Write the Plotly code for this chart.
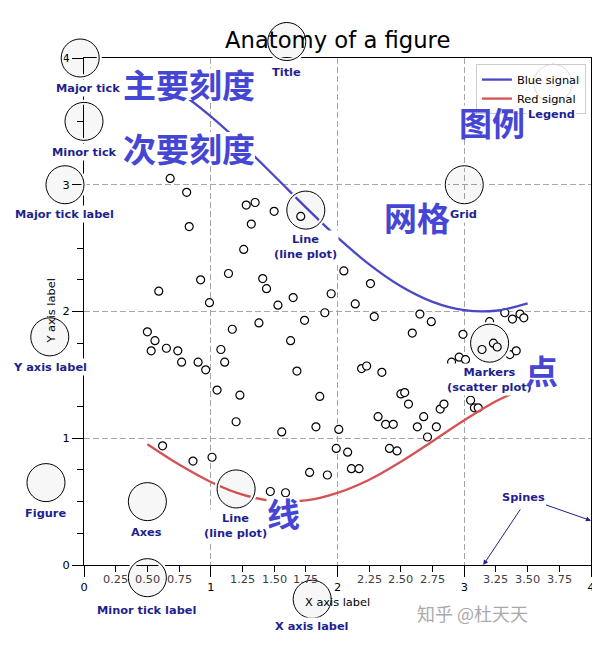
import plotly.graph_objects as go

# ---------------- data ----------------
line_x = [0.5, 0.75, 1.0, 1.25, 1.5, 1.75, 2.0, 2.25, 2.5, 2.75, 3.0, 3.25, 3.5]
blue_y = [3.878, 3.732, 3.540, 3.315, 3.071, 2.822, 2.584, 2.372, 2.199, 2.076, 2.010, 2.006, 2.064]
red_y = [0.952, 0.792, 0.655, 0.555, 0.505, 0.509, 0.569, 0.673, 0.815, 0.977, 1.142, 1.292, 1.407]

scatter_x = [0.68, 0.81, 0.83, 1.28, 1.35, 1.50, 1.71, 1.32, 1.26, 0.92, 1.14, 0.59, 0.99, 1.41, 1.44,
             1.53, 1.65, 1.95, 1.90, 1.74, 1.38, 1.17, 0.50, 2.05, 2.26, 2.14, 2.29, 2.65, 2.74, 2.59,
             2.99, 3.32, 3.38, 3.44, 3.47, 3.20, 0.56, 0.53, 0.65, 0.74, 0.77, 0.90, 0.96, 1.08, 1.11,
             1.63, 1.68, 1.05, 1.23, 1.20, 1.86, 1.83, 1.56, 2.01, 1.99, 0.62, 0.86, 1.01, 1.78, 1.92,
             1.47, 1.59, 2.19, 2.23, 2.35, 2.90, 2.96, 3.01, 3.14, 3.23, 3.26, 3.36, 3.41, 2.50, 2.53,
             2.56, 2.32, 2.38, 2.44, 2.63, 2.68, 2.78, 2.71, 2.81, 2.84, 3.05, 3.08, 3.11, 2.08, 2.11,
             2.17, 2.41, 2.47]
scatter_y = [3.05, 2.94, 2.67, 2.84, 2.86, 2.79, 2.75, 2.69, 2.49, 2.25, 2.30, 2.16, 2.07, 2.26, 2.18,
             2.05, 2.11, 2.14, 1.99, 1.93, 1.91, 1.86, 1.84, 2.32, 2.22, 2.06, 1.96, 1.98, 1.92, 1.83,
             1.82, 1.99, 1.94, 1.98, 1.95, 1.92, 1.77, 1.69, 1.71, 1.69, 1.60, 1.60, 1.54, 1.70, 1.60,
             1.77, 1.53, 1.38, 1.34, 1.13, 1.33, 1.09, 1.05, 1.07, 0.92, 0.94, 0.82, 0.85, 0.73, 0.71,
             0.58, 0.57, 1.55, 1.57, 1.52, 1.60, 1.64, 1.62, 1.70, 1.75, 1.72, 1.66, 1.69, 1.35, 1.36,
             1.27, 1.17, 1.11, 1.11, 1.09, 1.17, 1.09, 1.01, 1.23, 1.27, 1.30, 1.24, 1.24, 0.89, 0.76,
             0.76, 0.92, 0.90]

major_vals = [0, 1, 2, 3, 4]
major_text = ["0", "1", "2", "3", "4"]
x_minor_vals = [0.25, 0.5, 0.75, 1.25, 1.5, 1.75, 2.25, 2.5, 2.75, 3.25, 3.5, 3.75]
x_minor_text = ["0.25", "0.50", "0.75", "1.25", "1.50", "1.75", "2.25", "2.50", "2.75", "3.25", "3.50", "3.75"]
y_minor_vals = [0.25, 0.5, 0.75, 1.25, 1.5, 1.75, 2.25, 2.5, 2.75, 3.25, 3.5, 3.75]

circle_x = [-0.03, 0.00, -0.15, 1.80, -0.27, 1.60, 1.75, 1.20, 3.20, 3.00, 3.70, 0.50, -0.30, 0.50]
circle_y = [4.00, 3.50, 3.00, -0.27, 1.80, 4.13, 2.80, 0.60, 1.75, 3.00, 3.80, 0.50, 0.65, -0.10]
circle_r = 0.15

label_text = ["Major tick", "Minor tick", "Major tick label", "Title", "Legend", "Grid",
              "Y axis label", "Line<br>(line plot)", "Markers<br>(scatter plot)", "Figure", "Axes",
              "Line<br>(line plot)", "Minor tick label", "X axis label"]
label_x = [0.032, 0.0, -0.154, 1.594, 3.692, 2.998, -0.268, 1.751, 3.199, -0.300, 0.493, 1.199, 0.497, 1.799]
label_y = [3.763, 3.258, 2.769, 3.890, 3.558, 2.769, 1.562, 2.513, 1.460, 0.410, 0.260, 0.308, -0.355, -0.481]

zh_text = ["主要刻度", "次要刻度", "图例", "网格", "点", "线"]
zh_x = [0.828, 0.828, 3.215, 2.631, 3.606, 1.570]
zh_y = [3.795, 3.290, 3.499, 2.746, 1.538, 0.410]

# ---------------- style ----------------
FONT = "DejaVu Sans"
ZH_FONT = "Noto Sans CJK SC"
BLUE = "#4848c8"
RED = "#d65252"
NAVY = "#1f1f8e"
ZH_COLOR = "#4646d4"
FS = 11.35
ZH_FS = 33
X_RANGE = [0, 4]
Y_RANGE = [0, 4]
PX_PER_UNIT = 507 / 4.0
xspan = X_RANGE[1] - X_RANGE[0]
yspan = Y_RANGE[1] - Y_RANGE[0]


def fx(v):
    # data x -> fraction of the plot area (paper coords, single subplot filling the domain)
    return (v - X_RANGE[0]) / xspan


def fy(v):
    return (v - Y_RANGE[0]) / yspan


fig = go.Figure()

fig.add_trace(go.Scatter(
    x=scatter_x, y=scatter_y, mode="markers", showlegend=False, hoverinfo="skip",
    marker=dict(size=8, color="white", line=dict(color="black", width=1.2))))
fig.add_trace(go.Scatter(
    x=line_x, y=blue_y, mode="lines", name="Blue signal", hoverinfo="skip",
    line=dict(color=BLUE, width=2.3, shape="spline")))
fig.add_trace(go.Scatter(
    x=line_x, y=red_y, mode="lines", name="Red signal", hoverinfo="skip",
    line=dict(color=RED, width=2.3, shape="spline")))

shapes = []
# white patches behind the chinese overlay text (they hide lines / grid like in the picture)
for t, x, y in zip(zh_text, zh_x, zh_y):
    hw = len(t) * (ZH_FS / 2.0) / PX_PER_UNIT
    hh = (ZH_FS / 2.0 - 0.5) / PX_PER_UNIT
    shapes.append(dict(type="rect", xref="x", yref="y", x0=x - hw, x1=x + hw, y0=y - hh, y1=y + hh,
                       fillcolor="white", line=dict(width=0), layer="above"))
# circles (domain refs so they are not clipped at the axes)
for style in (dict(line=dict(color="white", width=5), fillcolor="rgba(0,0,0,0)"),
              dict(line=dict(color="black", width=1), fillcolor="rgba(0,0,0,0.03)")):
    for cx, cy in zip(circle_x, circle_y):
        shapes.append(dict(type="circle", xref="x domain", yref="y domain",
                           x0=fx(cx - circle_r), x1=fx(cx + circle_r),
                           y0=fy(cy - circle_r), y1=fy(cy + circle_r),
                           layer="above", **style))

annotations = []
# minor x tick labels
for v, t in zip(x_minor_vals, x_minor_text):
    annotations.append(dict(x=v, y=0, xref="x", yref="y", text=t, showarrow=False,
                            yanchor="top", yshift=-5,
                            font=dict(family=FONT, size=FS, color="#404040")))
# labels of anatomy parts (paper refs so labels outside the axes stay visible)
for t, x, y in zip(label_text, label_x, label_y):
    annotations.append(dict(x=fx(x), y=fy(y), xref="paper", yref="paper", text=t, showarrow=False,
                            xanchor="center", yanchor="middle", bgcolor="white", borderpad=1,
                            font=dict(family=FONT, size=FS, color=NAVY, weight="bold")))
# chinese overlays
for t, x, y in zip(zh_text, zh_x, zh_y):
    annotations.append(dict(x=x, y=y, xref="x", yref="y", text=t, showarrow=False,
                            xanchor="center", yanchor="middle",
                            font=dict(family=ZH_FONT, size=ZH_FS, color=ZH_COLOR, weight="bold")))
# title
annotations.append(dict(x=0.5, y=1, xref="paper", yref="paper", text="Anatomy of a figure",
                        showarrow=False, yanchor="bottom", yshift=3,
                        font=dict(family=FONT, size=22.7, color="black")))
# axis labels
annotations.append(dict(x=0.5, y=0, xref="paper", yref="paper", text="X axis label",
                        showarrow=False, yanchor="top", yshift=-28,
                        font=dict(family=FONT, size=FS, color="black")))
annotations.append(dict(x=0, y=0.5, xref="paper", yref="paper", text="Y axis label",
                        showarrow=False, xanchor="center", yanchor="middle", xshift=-34,
                        textangle=-90, font=dict(family=FONT, size=FS, color="black")))
# spines
annotations.append(dict(x=4.0, y=0.35, xref="x", yref="y", ax=3.464, ay=0.537,
                        axref="x", ayref="y", text="Spines", showarrow=True,
                        arrowhead=2, arrowsize=1, arrowwidth=1, arrowcolor=NAVY,
                        font=dict(family=FONT, size=FS, color=NAVY, weight="bold")))
annotations.append(dict(x=3.15, y=0.0, xref="x", yref="y", ax=3.45, ay=0.45,
                        axref="x", ayref="y", text="", showarrow=True,
                        arrowhead=2, arrowsize=1, arrowwidth=1, arrowcolor=NAVY))
# watermark
annotations.append(dict(x=0.879, y=-0.125, xref="paper", yref="paper", text="知乎 @杜天天",
                        showarrow=False, font=dict(family=ZH_FONT, size=18, color="#aaaaaa")))

axis_common = dict(
    tickvals=major_vals, ticktext=major_text, ticks="outside", ticklen=11,
    tickwidth=1, tickcolor="black", showline=True, linecolor="black", linewidth=1,
    mirror=True, showgrid=True, gridcolor="#a6a6a6", gridwidth=1, griddash="6px,3px",
    zeroline=False, tickfont=dict(family=FONT, size=FS, color="black"), fixedrange=True,
)
fig.update_xaxes(**axis_common, range=X_RANGE,
                 minor=dict(tickvals=x_minor_vals, ticks="outside", ticklen=6, tickwidth=1,
                            tickcolor="black", showgrid=False))
fig.update_yaxes(**axis_common, range=Y_RANGE,
                 minor=dict(tickvals=y_minor_vals, ticks="outside", ticklen=6, tickwidth=1,
                            tickcolor="black", showgrid=False))

fig.update_layout(
    width=592, height=645,
    margin=dict(l=76, r=9, t=50, b=88, autoexpand=False),
    paper_bgcolor="white", plot_bgcolor="white",
    showlegend=True,
    legend=dict(x=0.990, y=0.988, xanchor="right", yanchor="top",
                bgcolor="rgba(255,255,255,0.85)", bordercolor="#cccccc", borderwidth=1,
                font=dict(family=FONT, size=FS, color="black"), itemwidth=30,
                tracegroupgap=0),
    shapes=shapes,
    annotations=annotations,
    font=dict(family=FONT),
)

fig.write_html("out.html")
